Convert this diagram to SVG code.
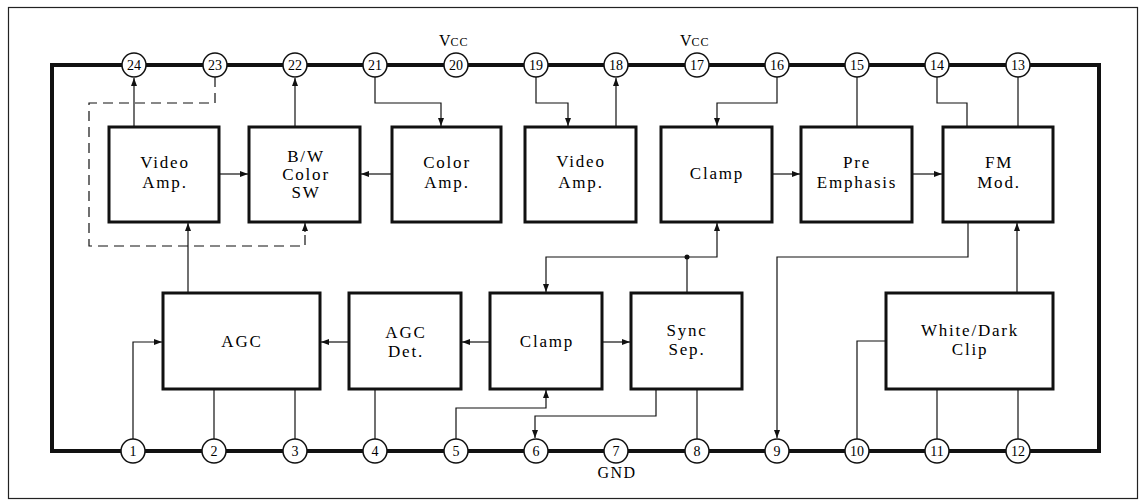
<svg xmlns="http://www.w3.org/2000/svg" width="1142" height="501" viewBox="0 0 1142 501">
<style>
.frame{fill:none;stroke:#222;stroke-width:1.2}
.pkg{fill:none;stroke:#111;stroke-width:4}
.box{fill:#fff;stroke:#111;stroke-width:3}
.pin{fill:#fff;stroke:#111;stroke-width:1.5}
.w{fill:none;stroke:#111;stroke-width:1.2}
.wa{fill:none;stroke:#111;stroke-width:1.2;marker-end:url(#ah)}
.dash{fill:none;stroke:#111;stroke-width:1.2;stroke-dasharray:10,6}
.lbl{font-family:"Liberation Serif","DejaVu Serif",serif;font-size:17px;letter-spacing:1.8px;text-anchor:middle;fill:#000}
.pn{font-family:"Liberation Serif","DejaVu Serif",serif;font-size:14px;text-anchor:middle;fill:#000}
.sm{font-family:"Liberation Serif","DejaVu Serif",serif;font-size:16px;fill:#000}
</style>
<defs>
<marker id="ah" markerUnits="userSpaceOnUse" markerWidth="9" markerHeight="7" refX="8" refY="3" orient="auto">
<path d="M0,0 L8,3 L0,6 z" fill="#111"/>
</marker>
</defs>
<rect width="1142" height="501" fill="#fff"/>
<rect class="frame" x="8.5" y="7.5" width="1129" height="491"/>
<rect class="pkg" x="52" y="65" width="1047" height="386"/>

<g id="connectors">
<path class="wa" d="M134,127 V78"/>
<path class="dash" d="M215,77 V103 H89 V246 H305 V232"/>
<path class="wa" d="M305,232 V223"/>
<path class="wa" d="M295,127 V78"/>
<path class="wa" d="M375,77 V103 H441 V126"/>
<path class="wa" d="M536,77 V103 H568 V126"/>
<path class="wa" d="M616,127 V78"/>
<path class="wa" d="M777,77 V103 H717 V126"/>
<path class="w" d="M857,77 V127"/>
<path class="w" d="M937,77 V103 H967 V127"/>
<path class="w" d="M1018,77 V127"/>
<path class="wa" d="M219,174 H248"/>
<path class="wa" d="M392,174 H361"/>
<path class="wa" d="M772,174 H800"/>
<path class="wa" d="M912,174 H942"/>
<path class="wa" d="M968,222 V257 H777 V438"/>
<path class="wa" d="M1017,293 V223"/>
<path class="wa" d="M188,293 V223"/>
<path class="wa" d="M349,342 H321"/>
<path class="wa" d="M490,342 H462"/>
<path class="wa" d="M602,342 H630"/>
<path class="w" d="M687,293 V257"/>
<path class="wa" d="M687,257 H717 V223"/>
<path class="wa" d="M687,257 H546 V292"/>
<circle cx="687" cy="257" r="2.5" fill="#111"/>
<path class="wa" d="M133,439 V342 H162"/>
<path class="w" d="M214,389 V439"/>
<path class="w" d="M295,389 V439"/>
<path class="w" d="M375,389 V439"/>
<path class="wa" d="M456,439 V408 H546 V390"/>
<path class="wa" d="M656,389 V416 H535 V438"/>
<path class="w" d="M697,389 V439"/>
<path class="w" d="M857,439 V341 H886"/>
<path class="w" d="M937,389 V439"/>
<path class="w" d="M1018,389 V439"/>
</g>

<g id="pins-top">
<g id="pin24"><circle class="pin" cx="134" cy="65" r="12"/><text class="pn" x="134" y="70">24</text></g>
<g id="pin23"><circle class="pin" cx="215" cy="65" r="12"/><text class="pn" x="215" y="70">23</text></g>
<g id="pin22"><circle class="pin" cx="295" cy="65" r="12"/><text class="pn" x="295" y="70">22</text></g>
<g id="pin21"><circle class="pin" cx="375" cy="65" r="12"/><text class="pn" x="375" y="70">21</text></g>
<g id="pin20"><circle class="pin" cx="456" cy="65" r="12"/><text class="pn" x="456" y="70">20</text></g>
<g id="pin19"><circle class="pin" cx="536" cy="65" r="12"/><text class="pn" x="536" y="70">19</text></g>
<g id="pin18"><circle class="pin" cx="616" cy="65" r="12"/><text class="pn" x="616" y="70">18</text></g>
<g id="pin17"><circle class="pin" cx="697" cy="65" r="12"/><text class="pn" x="697" y="70">17</text></g>
<g id="pin16"><circle class="pin" cx="777" cy="65" r="12"/><text class="pn" x="777" y="70">16</text></g>
<g id="pin15"><circle class="pin" cx="857" cy="65" r="12"/><text class="pn" x="857" y="70">15</text></g>
<g id="pin14"><circle class="pin" cx="937" cy="65" r="12"/><text class="pn" x="937" y="70">14</text></g>
<g id="pin13"><circle class="pin" cx="1018" cy="65" r="12"/><text class="pn" x="1018" y="70">13</text></g>
</g>
<g id="pins-bottom">
<g id="pin1"><circle class="pin" cx="133" cy="451" r="12"/><text class="pn" x="133" y="456">1</text></g>
<g id="pin2"><circle class="pin" cx="214" cy="451" r="12"/><text class="pn" x="214" y="456">2</text></g>
<g id="pin3"><circle class="pin" cx="295" cy="451" r="12"/><text class="pn" x="295" y="456">3</text></g>
<g id="pin4"><circle class="pin" cx="375" cy="451" r="12"/><text class="pn" x="375" y="456">4</text></g>
<g id="pin5"><circle class="pin" cx="456" cy="451" r="12"/><text class="pn" x="456" y="456">5</text></g>
<g id="pin6"><circle class="pin" cx="536" cy="451" r="12"/><text class="pn" x="536" y="456">6</text></g>
<g id="pin7"><circle class="pin" cx="616" cy="451" r="12"/><text class="pn" x="616" y="456">7</text></g>
<g id="pin8"><circle class="pin" cx="697" cy="451" r="12"/><text class="pn" x="697" y="456">8</text></g>
<g id="pin9"><circle class="pin" cx="777" cy="451" r="12"/><text class="pn" x="777" y="456">9</text></g>
<g id="pin10"><circle class="pin" cx="857" cy="451" r="12"/><text class="pn" x="857" y="456">10</text></g>
<g id="pin11"><circle class="pin" cx="937" cy="451" r="12"/><text class="pn" x="937" y="456">11</text></g>
<g id="pin12"><circle class="pin" cx="1018" cy="451" r="12"/><text class="pn" x="1018" y="456">12</text></g>
</g>

<g id="labels">
<text class="sm" x="439" y="46">V<tspan font-size="12" letter-spacing="1">CC</tspan></text>
<text class="sm" x="680" y="46">V<tspan font-size="12" letter-spacing="1">CC</tspan></text>
<text class="sm" x="617" y="478" text-anchor="middle" letter-spacing="1.5" font-size="15">GND</text>
</g>

<g id="video-amp-1"><rect class="box" x="109" y="127" width="110" height="95"/><text class="lbl" x="165" y="168">Video</text><text class="lbl" x="165" y="188">Amp.</text></g>
<g id="bw-color-sw"><rect class="box" x="249" y="127" width="111" height="95"/><text class="lbl" x="306" y="162">B/W</text><text class="lbl" x="306" y="180">Color</text><text class="lbl" x="306" y="198">SW</text></g>
<g id="color-amp"><rect class="box" x="392" y="127" width="109" height="95"/><text class="lbl" x="447" y="168">Color</text><text class="lbl" x="447" y="188">Amp.</text></g>
<g id="video-amp-2"><rect class="box" x="525" y="127" width="111" height="95"/><text class="lbl" x="581" y="167">Video</text><text class="lbl" x="581" y="188">Amp.</text></g>
<g id="clamp-1"><rect class="box" x="661" y="127" width="111" height="95"/><text class="lbl" x="717" y="179">Clamp</text></g>
<g id="pre-emphasis"><rect class="box" x="801" y="127" width="111" height="95"/><text class="lbl" x="857" y="168">Pre</text><text class="lbl" x="857" y="188">Emphasis</text></g>
<g id="fm-mod"><rect class="box" x="943" y="127" width="110" height="95"/><text class="lbl" x="999" y="168">FM</text><text class="lbl" x="999" y="188">Mod.</text></g>

<g id="agc"><rect class="box" x="163" y="293" width="157" height="96"/><text class="lbl" x="242" y="347">AGC</text></g>
<g id="agc-det"><rect class="box" x="349" y="293" width="112" height="96"/><text class="lbl" x="406" y="338">AGC</text><text class="lbl" x="406" y="357">Det.</text></g>
<g id="clamp-2"><rect class="box" x="490" y="293" width="112" height="96"/><text class="lbl" x="547" y="347">Clamp</text></g>
<g id="sync-sep"><rect class="box" x="631" y="293" width="111" height="96"/><text class="lbl" x="687" y="336">Sync</text><text class="lbl" x="687" y="355">Sep.</text></g>
<g id="white-dark-clip"><rect class="box" x="886" y="293" width="167" height="96"/><text class="lbl" x="970" y="336">White/Dark</text><text class="lbl" x="970" y="355">Clip</text></g>
</svg>
